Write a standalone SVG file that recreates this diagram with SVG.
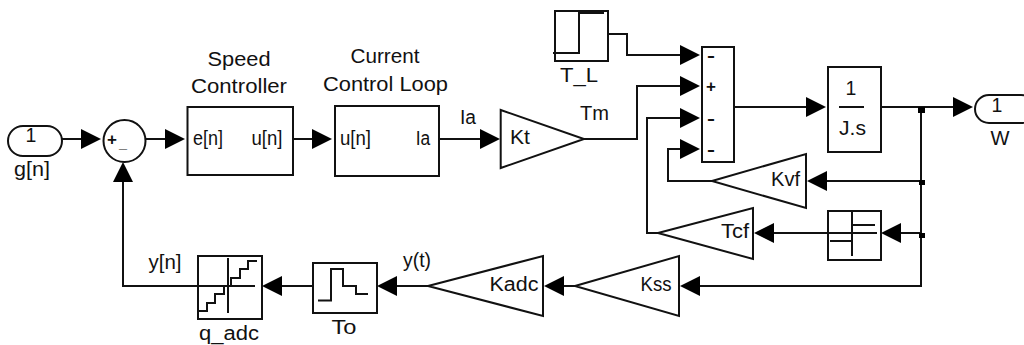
<svg xmlns="http://www.w3.org/2000/svg" width="1024" height="345" viewBox="0 0 1024 345">
<style>
.b{fill:#fff;stroke:#111;stroke-width:2}
.l{fill:none;stroke:#111;stroke-width:2}
.t{font-family:"Liberation Sans",Arial,sans-serif;font-size:19.500px;fill:#111;text-anchor:middle}
.s{font-family:"Liberation Sans",Arial,sans-serif;font-weight:bold;font-size:17px;fill:#111;text-anchor:middle}
.h{fill:#000;stroke:none}
</style>
<defs><polygon id="a" class="h" points="-20,-10 0,0 -20,10"/></defs>
<rect width="1024" height="345" fill="#fff"/>
<g id="connectors">
<path class="l" d="M62 139H85"/><use href="#a" transform="translate(101,139)"/>
<path class="l" d="M146 139H168"/><use href="#a" transform="translate(185,139)"/>
<path class="l" d="M291 139H315"/><use href="#a" transform="translate(332,139)"/>
<path class="l" d="M439 139H483"/><use href="#a" transform="translate(500,139)"/>
<path class="l" d="M584 139H637V86H683"/><use href="#a" transform="translate(700,86)"/>
<path class="l" d="M606 34H627V55H683"/><use href="#a" transform="translate(700,55)"/>
<path class="l" d="M658 233H647V118H683"/><use href="#a" transform="translate(700,118)"/>
<path class="l" d="M712 181H668V149H683"/><use href="#a" transform="translate(700,149)"/>
<path class="l" d="M734 107H810"/><use href="#a" transform="translate(826,107)"/>
<path class="l" d="M881 107H956"/><use href="#a" transform="translate(973,107)"/>
<path class="l" d="M921 107V286H697"/><use href="#a" transform="translate(680,286) rotate(180)"/>
<path class="l" d="M921 181H810"/><use href="#a" transform="translate(807,181) rotate(180)"/>
<path class="l" d="M921 233H897"/><use href="#a" transform="translate(881,233) rotate(180)"/>
<path class="l" d="M828 233H770"/><use href="#a" transform="translate(754,233) rotate(180)"/>
<path class="l" d="M575 286H560"/><use href="#a" transform="translate(544,286) rotate(180)"/>
<path class="l" d="M428 286H394"/><use href="#a" transform="translate(377,286) rotate(180)"/>
<path class="l" d="M313 286H278"/><use href="#a" transform="translate(262,286) rotate(180)"/>
<path class="l" d="M198 286H123V178"/><use href="#a" transform="translate(123,162) rotate(-90)"/>
<rect class="h" x="918" y="107" width="7" height="6"/><rect class="h" x="919" y="180" width="6" height="5"/><rect class="h" x="919" y="233" width="6" height="5"/>
</g>
<g id="in1"><rect class="b" x="8" y="126" width="54" height="30" rx="15"/><text class="t" x="31" y="142">1</text><text class="t" x="32" y="176" textLength="36" lengthAdjust="spacingAndGlyphs">g[n]</text></g>
<g id="sum1"><circle class="b" cx="124.500" cy="141" r="21"/><text class="s" x="112" y="145">+</text><text class="s" x="123" y="148" textLength="8" lengthAdjust="spacingAndGlyphs">_</text></g>
<g id="speed"><rect class="b" x="187.500" y="107" width="105.500" height="68"/><text class="t" x="239" y="66" textLength="63" lengthAdjust="spacingAndGlyphs">Speed</text><text class="t" x="239" y="93" textLength="96" lengthAdjust="spacingAndGlyphs">Controller</text><text class="t" x="208" y="145" textLength="30" lengthAdjust="spacingAndGlyphs">e[n]</text><text class="t" x="267" y="145" textLength="31" lengthAdjust="spacingAndGlyphs">u[n]</text></g>
<g id="current"><rect class="b" x="335" y="106" width="104" height="70"/><text class="t" x="385" y="63" textLength="69" lengthAdjust="spacingAndGlyphs">Current</text><text class="t" x="385.500" y="90.500" textLength="125" lengthAdjust="spacingAndGlyphs">Control Loop</text><text class="t" x="355.500" y="144.500" textLength="31" lengthAdjust="spacingAndGlyphs">u[n]</text><text class="t" x="423" y="144.500" textLength="14.500" lengthAdjust="spacingAndGlyphs">Ia</text></g>
<text class="t" id="lIa" x="468" y="124" textLength="16" lengthAdjust="spacingAndGlyphs">Ia</text>
<g id="kt"><polygon class="b" points="500.700,110 500.700,168 584,139"/><text class="t" x="520" y="144" textLength="20" lengthAdjust="spacingAndGlyphs">Kt</text><text class="t" x="594.500" y="120" textLength="29" lengthAdjust="spacingAndGlyphs">Tm</text></g>
<g id="tl"><rect class="b" x="555" y="11" width="53" height="50"/><path class="l" d="M553 53H579V13H604"/><text class="t" x="579" y="82" textLength="38" lengthAdjust="spacingAndGlyphs">T_L</text></g>
<g id="sum2"><rect class="b" x="702" y="47" width="32" height="115"/><text class="s" x="711" y="60.500" textLength="8" lengthAdjust="spacingAndGlyphs">-</text><text class="s" x="711" y="92">+</text><text class="s" x="711" y="123.500" textLength="8" lengthAdjust="spacingAndGlyphs">-</text><text class="s" x="711" y="154.500" textLength="8" lengthAdjust="spacingAndGlyphs">-</text></g>
<g id="js"><rect class="b" x="828" y="67" width="53" height="85"/><path class="l" d="M839 107H864"/><text class="t" x="851" y="95">1</text><text class="t" x="852.500" y="135" textLength="27" lengthAdjust="spacingAndGlyphs">J.s</text></g>
<g id="out1"><rect class="b" x="975" y="95" width="60" height="28" rx="14"/><text class="t" x="997" y="111.500">1</text><text class="t" x="1000" y="145" textLength="19" lengthAdjust="spacingAndGlyphs">W</text></g>
<g id="kvf"><polygon class="b" points="712,181 806,154 806,208"/><text class="t" x="785.500" y="185.500" textLength="29" lengthAdjust="spacingAndGlyphs">Kvf</text></g>
<g id="tcf"><polygon class="b" points="658,233 753,208 753,259"/><text class="t" x="735" y="237.500" textLength="28" lengthAdjust="spacingAndGlyphs">Tcf</text></g>
<g id="sat"><rect class="b" x="828" y="211" width="53" height="49"/><path class="l" d="M826 233H877M852 212V256M852 225H875M830 241H852"/></g>
<g id="kss"><polygon class="b" points="575,286 679,256 679,316"/><text class="t" x="656" y="290.500" textLength="31" lengthAdjust="spacingAndGlyphs">Kss</text></g>
<g id="kadc"><polygon class="b" points="428,286 543,256 543,316"/><text class="t" x="514" y="290.500" textLength="49" lengthAdjust="spacingAndGlyphs">Kadc</text></g>
<text class="t" id="lyt" x="417" y="266.500" textLength="28" lengthAdjust="spacingAndGlyphs">y(t)</text>
<g id="to"><rect class="b" x="313" y="263" width="64" height="50"/><path class="l" d="M318 300.500H331V269H343V286H356V294H368"/><text class="t" x="344" y="334" textLength="25" lengthAdjust="spacingAndGlyphs">To</text></g>
<g id="qadc"><rect class="b" x="198" y="256" width="64" height="63"/><path class="l" d="M197 286H255M228 258V313M199 311H207V303H215V294H224V287M231 286V278H240V269H248V261H257"/><text class="t" x="229" y="340" textLength="60" lengthAdjust="spacingAndGlyphs">q_adc</text></g>
<text class="t" id="lyn" x="165" y="269" textLength="33" lengthAdjust="spacingAndGlyphs">y[n]</text>
</svg>
